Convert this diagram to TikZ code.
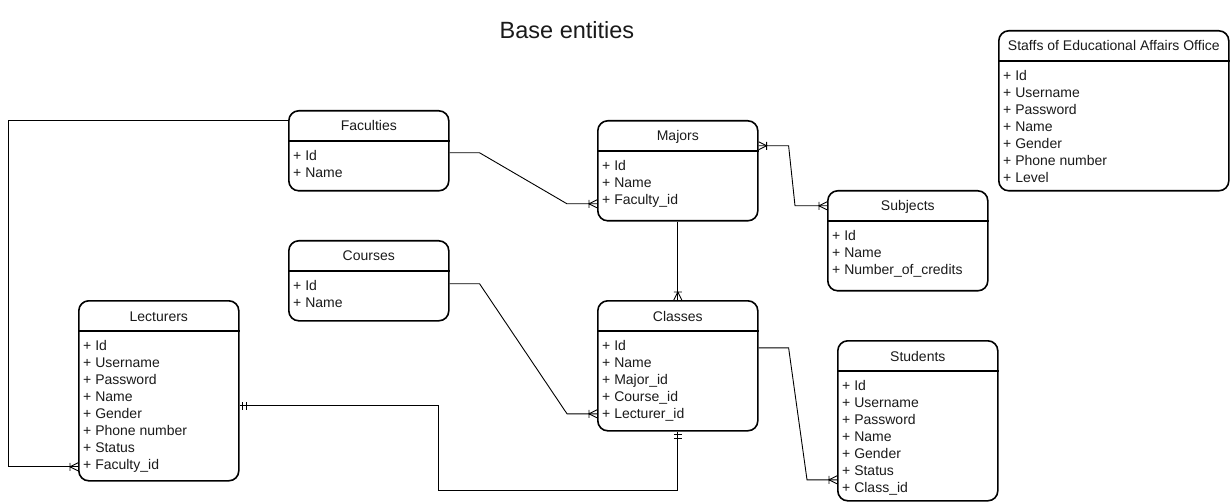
\documentclass[tikz,border=0pt]{standalone}
\usepackage{fontspec}
\setmainfont{Liberation Sans}
\definecolor{erInk}{HTML}{000000}
\definecolor{erText}{HTML}{1A1A1A}
\usetikzlibrary{calc,positioning,arrows.meta}

% crow's foot ends (one or many / exactly one)
\pgfdeclarearrow{
  name = ERmany,
  setup code = {
    \pgfarrowssettipend{0pt}
    \pgfarrowssetlineend{0pt}
    \pgfarrowssetbackend{-9pt}
    \pgfarrowssetvisualbackend{-9pt}
  },
  drawing code = {
    \pgfpathmoveto{\pgfqpoint{0pt}{4pt}}
    \pgfpathlineto{\pgfqpoint{-8pt}{0pt}}
    \pgfpathlineto{\pgfqpoint{0pt}{-4pt}}
    \pgfpathmoveto{\pgfqpoint{-8pt}{4pt}}
    \pgfpathlineto{\pgfqpoint{-8pt}{-4pt}}
    \pgfusepathqstroke
  }
}
\pgfdeclarearrow{
  name = ERone,
  setup code = {
    \pgfarrowssettipend{0pt}
    \pgfarrowssetlineend{0pt}
    \pgfarrowssetbackend{-8pt}
    \pgfarrowssetvisualbackend{-8pt}
  },
  drawing code = {
    \pgfpathmoveto{\pgfqpoint{-3pt}{4pt}}
    \pgfpathlineto{\pgfqpoint{-3pt}{-4pt}}
    \pgfpathmoveto{\pgfqpoint{-7pt}{4pt}}
    \pgfpathlineto{\pgfqpoint{-7pt}{-4pt}}
    \pgfusepathqstroke
  }
}
\newcommand{\entityrule}[1]{\draw[divider] ($(#1.north west)+(0,31)$) -- ($(#1.north east)+(0,31)$);}

\begin{document}
\begin{tikzpicture}[x=1pt, y=-1pt,
  entity/.style={draw=erInk, line width=1.6pt, rounded corners=10pt,
    anchor=north west, inner sep=0pt, minimum width=160pt},
  divider/.style={draw=erInk, line width=1.6pt},
  etitle/.style={anchor=base, text=erText, inner sep=0pt,
    font=\fontsize{14}{17}\selectfont},
  efields/.style={anchor=north west, align=left, text=erText, inner sep=0pt,
    font=\fontsize{14}{17}\selectfont},
  rel/.style={draw=erInk, line width=0.9pt}
]
  \useasboundingbox (0,0) rectangle (1230,502);

  \node[text=erText, font=\fontsize{23.5}{28}\selectfont] (title) at (567,30) {Base entities};

  % entities
  \node[entity, minimum height=80pt] (fac) at (288,110) {};
  \entityrule{fac}
  \node[etitle] (facT) at ($(fac.north)+(0,21)$) {Faculties};
  \node[efields] (facF) at ($(fac.north west)+(5,40)$) {+ Id\\+ Name};

  \node[entity, minimum height=80pt] (cou) at (288,240) {};
  \entityrule{cou}
  \node[etitle] (couT) at ($(cou.north)+(0,21)$) {Courses};
  \node[efields] (couF) at ($(cou.north west)+(5,40)$) {+ Id\\+ Name};

  \node[entity, minimum height=180pt] (lec) at (78,300) {};
  \entityrule{lec}
  \node[etitle] (lecT) at ($(lec.north)+(0,21)$) {Lecturers};
  \node[efields] (lecF) at ($(lec.north west)+(5,40)$) {+ Id\\+ Username\\+ Password\\+ Name\\+ Gender\\+ Phone number\\+ Status\\+ Faculty\_id};

  \node[entity, minimum height=100pt] (maj) at (597,120) {};
  \entityrule{maj}
  \node[etitle] (majT) at ($(maj.north)+(0,21)$) {Majors};
  \node[efields] (majF) at ($(maj.north west)+(5,40)$) {+ Id\\+ Name\\+ Faculty\_id};

  \node[entity, minimum height=130pt] (cla) at (597,300) {};
  \entityrule{cla}
  \node[etitle] (claT) at ($(cla.north)+(0,21)$) {Classes};
  \node[efields] (claF) at ($(cla.north west)+(5,40)$) {+ Id\\+ Name\\+ Major\_id\\+ Course\_id\\+ Lecturer\_id};

  \node[entity, minimum height=100pt] (sub) at (827,190) {};
  \entityrule{sub}
  \node[etitle] (subT) at ($(sub.north)+(0,21)$) {Subjects};
  \node[efields] (subF) at ($(sub.north west)+(5,40)$) {+ Id\\+ Name\\+ Number\_of\_credits};

  \node[entity, minimum height=160pt] (stu) at (837,340) {};
  \entityrule{stu}
  \node[etitle] (stuT) at ($(stu.north)+(0,21)$) {Students};
  \node[efields] (stuF) at ($(stu.north west)+(5,40)$) {+ Id\\+ Username\\+ Password\\+ Name\\+ Gender\\+ Status\\+ Class\_id};

  \node[entity, minimum width=230pt, minimum height=160pt] (sta) at (998,30) {};
  \entityrule{sta}
  \node[etitle] (staT) at ($(sta.north)+(0,21)$) {Staffs of Educational Affairs Office};
  \node[efields] (staF) at ($(sta.north west)+(5,40)$) {+ Id\\+ Username\\+ Password\\+ Name\\+ Gender\\+ Phone number\\+ Level};

  % relations
  \draw[rel, -ERmany] ([yshift=-2pt]fac.east) -- ++(30,0) -- ($(maj.west)+(-30,33)$) -- ($(maj.west)+(0,33)$);
  \draw[rel, -ERmany] ([yshift=-10pt]fac.north west) -- ++(-280,0) |- ($(lec.west)+(0,76)$);
  \draw[rel, ERmany-ERmany] ($(maj.east)+(0,-25)$) -- ++(30,0) -- ($(sub.west)+(-32,-35)$) -- ($(sub.west)+(0,-35)$);
  \draw[rel, -ERmany] (maj.south) -- (cla.north);
  \draw[rel, -ERmany] ($(cou.east)+(0,3)$) -- ++(30,0) -- ($(cla.west)+(-30,48)$) -- ($(cla.west)+(0,48)$);
  \draw[rel, -ERmany] ($(cla.east)+(0,-18)$) -- ++(30,0) -- ($(stu.west)+(-30,59)$) -- ($(stu.west)+(0,59)$);
  \draw[rel, ERone-ERone] ($(lec.east)+(0,15)$) -- ++(199,0) -- ++(0,85) -| (cla.south);
\end{tikzpicture}
\end{document}
